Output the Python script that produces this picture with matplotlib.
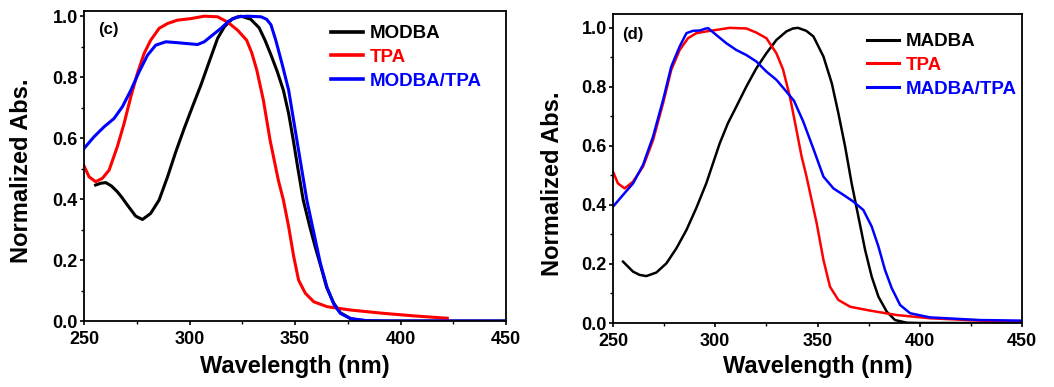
import numpy as np
import matplotlib.pyplot as plt
from matplotlib.ticker import MultipleLocator, FormatStrFormatter

plt.rcParams['font.family'] = ['Liberation Sans', 'DejaVu Sans']
plt.rcParams['font.weight'] = 'bold'

## panel (c) data
c_modba_wl = [255.5, 258, 260.3, 263, 265.8, 268, 270.6, 274.5, 277.7, 281.6, 285.6, 289.6, 293.5, 297.5, 301.4, 305.4,
              309.3, 313.3, 316.5, 320.4, 324.4, 329, 333, 335.8, 338.5, 341.5, 344.5, 347, 349.2, 351.5, 353.9, 357,
              359.5, 362, 365, 368.4, 371.5, 376.3, 380, 384.2, 390, 450]
c_modba = [0.446, 0.452, 0.454, 0.443, 0.424, 0.405, 0.38, 0.344, 0.333, 0.353, 0.397, 0.473, 0.555, 0.632, 0.703, 0.774,
           0.85, 0.927, 0.965, 0.992, 1.0, 0.99, 0.962, 0.921, 0.875, 0.82, 0.757, 0.68, 0.593, 0.495, 0.397, 0.31,
           0.245, 0.185, 0.11, 0.058, 0.027, 0.008, 0.003, 0.001, 0.0, 0.0]

c_tpa_wl = [250, 252.4, 255.5, 258.7, 261.9, 265.8, 269, 272.2, 275.3, 278.5, 281.6, 285.6, 289.6, 294.3, 300.6, 307,
            313.3, 318, 322.8, 327.1, 329.5, 331.9, 335, 338.2, 342.1, 344.5, 347, 349.4, 351.7, 354.9, 358.9,
            365.2, 376.3, 392.1, 407.9, 422.2]
c_tpa = [0.509, 0.473, 0.457, 0.468, 0.495, 0.572, 0.648, 0.736, 0.812, 0.878, 0.921, 0.96, 0.976, 0.987, 0.992, 1.0,
         0.998, 0.981, 0.954, 0.921, 0.88, 0.823, 0.725, 0.593, 0.462, 0.397, 0.309, 0.211, 0.134, 0.091, 0.063,
         0.047, 0.036, 0.025, 0.016, 0.009]

c_mix_wl = [250, 254.7, 259.5, 264.2, 268.2, 272.2, 276.1, 280.1, 284, 288.8, 294.3, 299.1, 303.8, 307, 310.9, 314.9,
            318.8, 322.8, 327.5, 333.9, 336.5, 338.6, 340.9, 344, 347, 350.9, 355.6, 358.9, 362, 365.2, 368.4, 371.5,
            376.3, 384.2, 395, 450]
c_mix = [0.566, 0.604, 0.637, 0.664, 0.703, 0.757, 0.817, 0.872, 0.905, 0.916, 0.913, 0.91, 0.907, 0.916, 0.938, 0.96,
         0.985, 0.998, 1.0, 0.998, 0.99, 0.972, 0.921, 0.84, 0.757, 0.593, 0.397, 0.29, 0.19, 0.11, 0.055, 0.025,
         0.008, 0.001, 0.0, 0.0]

## panel (d) data
d_madba_wl = [254.9, 259.8, 263, 266.3, 271.2, 276.1, 281, 285.9, 290.7, 295.6, 298.9, 302.2, 306.2, 310.3, 315.2, 320.1,
              325, 329.9, 334.8, 338, 340.5, 344.5, 348, 352.9, 357, 360.2, 363.5, 366.7, 370, 373.3, 376.5, 379.8,
              383.9, 387.9, 393.6, 400, 450]
d_madba = [0.208, 0.174, 0.163, 0.159, 0.171, 0.202, 0.253, 0.315, 0.389, 0.473, 0.541, 0.609, 0.677, 0.733, 0.801, 0.863,
           0.914, 0.959, 0.988, 0.998, 1.0, 0.99, 0.971, 0.903, 0.812, 0.711, 0.598, 0.473, 0.36, 0.247, 0.157, 0.089,
           0.038, 0.01, 0.001, 0.0, 0.0]

d_tpa_wl = [250, 252.4, 255.7, 259.8, 264.7, 269.6, 274.5, 278.5, 282.6, 286.7, 290.7, 295.6, 300.5, 307, 315.2, 320.1,
            325, 329.9, 333.1, 336.5, 339.4, 342.2, 344.5, 346.4, 349.6, 352.9, 356.1, 360.2, 366, 375.7, 388.7, 405,
            429.5, 450]
d_tpa = [0.513, 0.473, 0.456, 0.479, 0.53, 0.62, 0.745, 0.858, 0.925, 0.965, 0.982, 0.988, 0.993, 1.0, 0.998, 0.984,
         0.965, 0.914, 0.86, 0.767, 0.665, 0.565, 0.5, 0.44, 0.338, 0.214, 0.123, 0.078, 0.055, 0.042, 0.027, 0.016,
         0.008, 0.005]

d_mix_wl = [250, 254.9, 259.8, 264.7, 269.6, 274.5, 278.5, 282.6, 285.9, 289.1, 292.4, 295, 296.5, 300.5, 305.4, 310.3,
            315.2, 320.1, 325, 329.9, 334.8, 338.5, 343, 348, 352.9, 357.8, 362.7, 367.6, 372.4, 376.5, 379.8, 383,
            386.3, 390.4, 395.3, 405, 429.5, 450]
d_mix = [0.394, 0.434, 0.473, 0.536, 0.632, 0.756, 0.869, 0.937, 0.982, 0.99, 0.991, 0.997, 0.999, 0.976, 0.948, 0.925,
         0.908, 0.886, 0.852, 0.824, 0.784, 0.753, 0.683, 0.59, 0.496, 0.456, 0.434, 0.411, 0.383, 0.327, 0.259, 0.18,
         0.118, 0.061, 0.033, 0.019, 0.01, 0.008]

fig = plt.figure(figsize=(10.54, 3.87), dpi=100)
ax1 = fig.add_axes([84/1054, 1 - 321/387, 422/1054, 310/387])
ax2 = fig.add_axes([613/1054, 1 - 323/387, 409/1054, 309/387])

def style(ax, ytop, tag, tagpos, xlab_y, ylab_x, ylab_y):
    ax.set_xlim(250, 450)
    ax.set_ylim(0, ytop)
    ax.xaxis.set_major_locator(MultipleLocator(50))
    ax.xaxis.set_minor_locator(MultipleLocator(25))
    ax.yaxis.set_major_locator(MultipleLocator(0.2))
    ax.yaxis.set_minor_locator(MultipleLocator(0.1))
    ax.yaxis.set_major_formatter(FormatStrFormatter('%.1f'))
    ax.tick_params(which='major', direction='out', length=3, width=1.2, labelsize=13)
    ax.tick_params(which='minor', direction='out', length=2, width=1.0)
    ax.tick_params(axis='x', pad=4)
    ax.tick_params(axis='y', pad=1.5)
    for s in ax.spines.values():
        s.set_linewidth(1.3)
    ax.set_xlabel('Wavelength (nm)', fontsize=17, fontweight='bold')
    ax.set_ylabel('Normalized Abs.', fontsize=17, fontweight='bold')
    ax.xaxis.set_label_coords(0.5, xlab_y)
    ax.yaxis.set_label_coords(ylab_x, ylab_y)
    ax.text(tagpos[0], tagpos[1], tag, transform=ax.transAxes, fontsize=12, fontweight='bold', va='center')

style(ax1, 1.017, '(c)', (0.033, 0.939), -0.11, -0.122, 0.484)
ax1.plot(c_modba_wl, c_modba, color='black', lw=2.2, label='MODBA', solid_joinstyle='round')
ax1.plot(c_tpa_wl, c_tpa, color='red', lw=2.2, label='TPA', solid_joinstyle='round')
ax1.plot(c_mix_wl, c_mix, color='blue', lw=2.2, label='MODBA/TPA', solid_joinstyle='round')

style(ax2, 1.047, '(d)', (0.022, 0.935), -0.104, -0.12, 0.45)
ax2.plot(d_madba_wl, d_madba, color='black', lw=1.8, label='MADBA', solid_joinstyle='round')
ax2.plot(d_tpa_wl, d_tpa, color='red', lw=1.8, label='TPA', solid_joinstyle='round')
ax2.plot(d_mix_wl, d_mix, color='blue', lw=1.8, label='MADBA/TPA', solid_joinstyle='round')

for ax, anchor, lw in [(ax1, (331/1054, 1 - 25/387), 2.6), (ax2, (867/1054, 1 - 33/387), 2.2)]:
    leg = ax.legend(loc='upper left', bbox_to_anchor=anchor, bbox_transform=fig.transFigure,
                    frameon=False, fontsize=13.5, handlelength=1.7, handletextpad=0.37,
                    labelspacing=0.36, borderpad=0, borderaxespad=0)
    for txt, line in zip(leg.get_texts(), leg.get_lines()):
        txt.set_color(line.get_color())
        txt.set_fontweight('bold')
        line.set_linewidth(lw)

fig.savefig('out.png', dpi=100)
